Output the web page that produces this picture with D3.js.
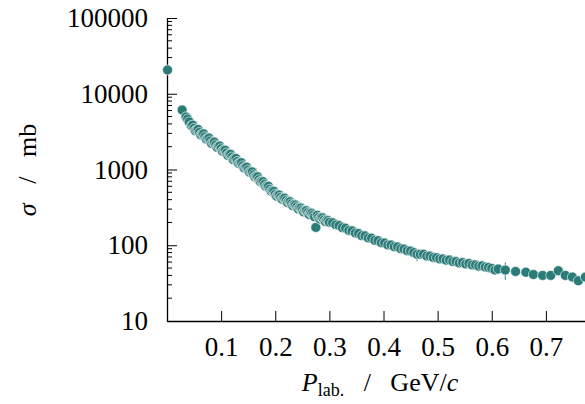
<!DOCTYPE html>
<html>
<head>
<meta charset="utf-8">
<script src="https://cdn.jsdelivr.net/npm/d3@7"></script>
<style>
body { margin: 0; background: #fff; }
svg text { font-family: "Liberation Serif", "DejaVu Serif", serif; }
</style>
</head>
<body>
<div id="container"></div>
<script>
// cross section vs lab momentum
var pLab = [0.001, 0.028, 0.035, 0.038, 0.041,
	0.0450, 0.0475, 0.0500, 0.0525, 0.0550, 0.0575, 0.0600, 0.0625, 0.0650, 0.0675,
	0.0700, 0.0725, 0.0750, 0.0775, 0.0800, 0.0825, 0.0850, 0.0875, 0.0900, 0.0925,
	0.0950, 0.0975, 0.1000, 0.1025, 0.1050, 0.1075, 0.1100, 0.1125, 0.1150, 0.1175,
	0.1200, 0.1225, 0.1250, 0.1275, 0.1300, 0.1325, 0.1350, 0.1375, 0.1400, 0.1425,
	0.1450, 0.1475, 0.1500, 0.1525, 0.1550, 0.1575, 0.1600, 0.1625, 0.1650, 0.1675,
	0.1700, 0.1725, 0.1750, 0.1775, 0.1800, 0.1825, 0.1850, 0.1875, 0.1900, 0.1925,
	0.1950, 0.1975, 0.2000, 0.2025, 0.2050, 0.2075, 0.2100, 0.2125, 0.2150, 0.2175,
	0.2200, 0.2225, 0.2250, 0.2275, 0.2300, 0.2325, 0.2350, 0.2375, 0.2400, 0.2425,
	0.2450, 0.2475, 0.2500, 0.2525, 0.2550, 0.2575, 0.2600, 0.2625, 0.2650, 0.2675,
	0.2700, 0.2725, 0.2750, 0.2775, 0.2800, 0.2825, 0.2850, 0.2875, 0.2900, 0.2925,
	0.2950, 0.2975, 0.3000,
	0.306, 0.312, 0.318, 0.324, 0.330, 0.336, 0.342, 0.348, 0.354, 0.360,
	0.366, 0.372, 0.378, 0.384, 0.390, 0.396, 0.402, 0.408, 0.414, 0.420,
	0.426, 0.432, 0.438, 0.444, 0.450, 0.456, 0.462, 0.468, 0.474, 0.480,
	0.486, 0.492, 0.498, 0.504, 0.510, 0.516, 0.522, 0.528, 0.534, 0.540,
	0.546, 0.552, 0.558, 0.564, 0.570, 0.576, 0.582, 0.588, 0.594, 0.600,
	0.606, 0.612,
	0.625, 0.644, 0.663, 0.677, 0.694, 0.709, 0.723, 0.736, 0.749, 0.760, 0.773];

var sigma = [20600, 6100, 4950, 4640, 4250,
	3780, 3850, 3500, 3250, 3330, 3380, 3080, 2850, 2920, 2960,
	2700, 2520, 2570, 2600, 2380, 2200, 2280, 2300, 2110, 1960,
	2030, 2040, 1880, 1740, 1800, 1800, 1650, 1530, 1590, 1590,
	1460, 1350, 1400, 1400, 1280, 1200, 1230, 1230, 1120, 1050,
	1080, 1070, 985, 920, 940, 930, 850, 800, 812, 800,
	735, 690, 700, 690, 635, 595, 604, 600, 548, 515,
	522, 515, 472, 445, 462, 460, 430, 405, 420, 418,
	389, 366, 381, 376, 352, 333, 346, 340, 320, 302,
	314, 310, 291, 276, 288, 286, 270, 255, 268, 265,
	251, 238, 172, 249, 233, 222, 231, 230, 216, 206,
	214, 212, 201,
	198, 186, 182, 171, 168, 157, 155, 145, 143, 134,
	133, 125, 124, 116, 115, 108, 107, 101, 101, 95.5,
	95, 90, 89, 84.5, 84, 80, 76, 76, 76, 72,
	72, 69, 68.5, 66, 66, 63.5, 64, 61, 61, 58.5,
	59, 56.5, 57.5, 55, 55, 53, 53.5, 51.5, 51, 49.5,
	47, 48.5,
	47, 45, 44, 41, 40, 40, 46, 40, 38, 34, 38];

// only a couple of points carry a visible error bar (index -> +/- mb)
var sigmaErr = {134: 14, 160: 12};

var xTicks = [0.1, 0.2, 0.3, 0.4, 0.5, 0.6, 0.7];
var yTicks = [10, 100, 1000, 10000, 100000];

function makeChart(){
	var w = 585;
	var h = 404;

	var svg = d3.select("#container")
		.append("svg")
		.attr("width", w)
		.attr("height", h);

	//scales
	var xScale = d3.scaleLinear()
		.domain([0, 0.8])
		.range([167, 600]);

	var yScale = d3.scaleLog()
		.domain([10, 100000])
		.range([321, 18]);

	//minor ticks on the log axis
	var minor = [];
	for(var k = 10; k < 100000; k *= 10){
		for(var m = 2; m < 10; m++){
			minor.push(k*m);
		}
	}
	svg.append("g")
		.selectAll("line")
		.data(minor)
		.enter()
		.append("line")
		.attr("x1", 167)
		.attr("x2", 172)
		.attr("y1", function(d){ return yScale(d); })
		.attr("y2", function(d){ return yScale(d); })
		.attr("stroke", "#000")
		.attr("stroke-width", 1);

	//axes
	svg.append("g")
		.attr("transform", "translate(0,321)")
		.call(d3.axisBottom(xScale)
			.tickValues(xTicks)
			.tickSize(-10)
			.tickSizeOuter(0)
			.tickPadding(16)
			.tickFormat(d3.format(".1f")));

	svg.append("g")
		.attr("transform", "translate(167,0)")
		.call(d3.axisLeft(yScale)
			.tickValues(yTicks)
			.tickSize(-10)
			.tickSizeOuter(0)
			.tickPadding(19)
			.tickFormat(d3.format("d")));

	svg.selectAll(".domain").attr("stroke", "#000").attr("stroke-width", 1.3);
	svg.selectAll(".tick line").attr("stroke", "#000").attr("stroke-width", 1);
	svg.selectAll(".tick text")
		.attr("font-family", "Liberation Serif")
		.attr("font-size", "27px")
		.attr("fill", "#000");

	//error bars
	var errIdx = Object.keys(sigmaErr).map(Number);
	svg.append("g")
		.selectAll("line")
		.data(errIdx)
		.enter()
		.append("line")
		.attr("x1", function(i){ return xScale(pLab[i]); })
		.attr("x2", function(i){ return xScale(pLab[i]); })
		.attr("y1", function(i){ return yScale(sigma[i] - sigmaErr[i]); })
		.attr("y2", function(i){ return yScale(sigma[i] + sigmaErr[i]); })
		.attr("stroke", "#2b7c78")
		.attr("stroke-width", 1);

	//points
	svg.append("g")
		.selectAll("circle")
		.data(sigma)
		.enter()
		.append("circle")
		.attr("cx", function(d, i){ return xScale(pLab[i]); })
		.attr("cy", function(d){ return yScale(d); })
		.attr("r", 5)
		.attr("fill", "#2b7c78")
		.attr("stroke", "#ffffff")
		.attr("stroke-opacity", 0.6)
		.attr("stroke-width", 1);

	//axis titles
	var xt = svg.append("text")
		.attr("x", 380)
		.attr("y", 391)
		.attr("text-anchor", "middle")
		.attr("font-size", "26px");
	xt.append("tspan").attr("font-style", "italic").text("P");
	xt.append("tspan").attr("font-size", "18px").attr("dy", 5).text("lab.");
	xt.append("tspan").attr("dy", -5).attr("xml:space", "preserve").text("   /   GeV/");
	xt.append("tspan").attr("font-style", "italic").text("c");

	var yt = svg.append("text")
		.attr("transform", "translate(36,170) rotate(-90)")
		.attr("text-anchor", "middle")
		.attr("font-size", "26px");
	yt.append("tspan").attr("font-style", "italic").text("σ");
	yt.append("tspan").attr("xml:space", "preserve").text("   /   mb");
}

makeChart();
</script>
</body>
</html>
